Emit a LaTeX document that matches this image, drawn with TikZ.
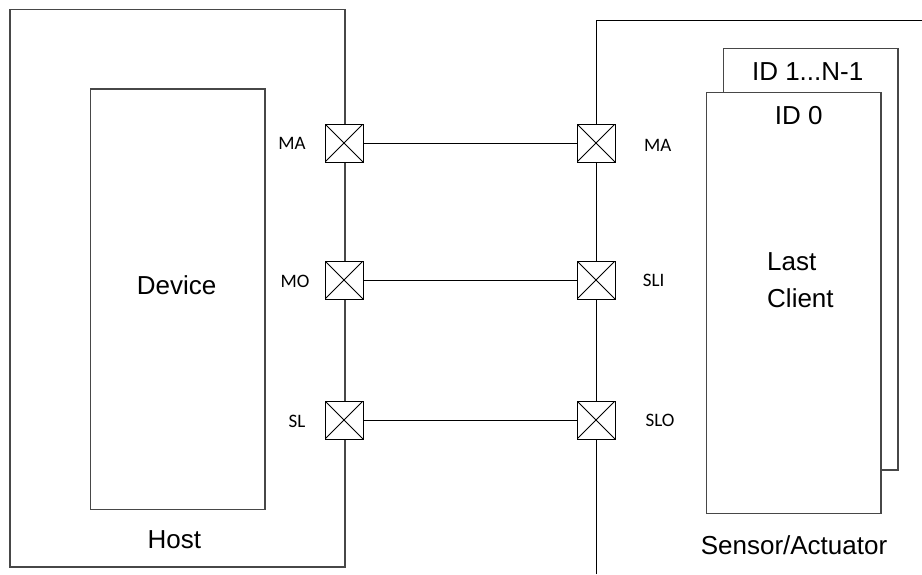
\documentclass[tikz,border=0pt]{standalone}
\usepackage{fontspec}
\setmainfont{Liberation Sans}
\newfontfamily\pinfont{Carlito}
\begin{document}
\begin{tikzpicture}[x=1pt,y=-1pt,
  box/.style={draw=black!72, line width=1.2pt, inner sep=0pt, outer sep=0pt, anchor=north west},
  pinbox/.style={draw, line width=1pt, minimum size=38pt, inner sep=0pt, outer sep=0pt, fill=white,
    path picture={\draw[line width=0.8pt] (path picture bounding box.north west)--(path picture bounding box.south east)
      (path picture bounding box.north east)--(path picture bounding box.south west);}},
  big/.style={font=\fontsize{26}{36.6}\selectfont, inner sep=0pt},
  lab/.style={font=\pinfont\fontsize{19}{22}\selectfont, inner sep=0pt},
  wire/.style={line width=1pt}]
\useasboundingbox (0,0) rectangle (922,574);
% host side
\node[box, minimum width=335pt, minimum height=557.5pt] (host) at (10,9.5) {};
\node[box, minimum width=174.5pt, minimum height=420.5pt] (device) at (90.5,89) {};
\node[big] (devicet) at (176.7,285) {Device};
\node[big] (hostt) at (174.3,539.3) {Host};
% sensor side bus
\coordinate (bustop) at (596,20.3);
\coordinate (busbot) at (596,574);
\coordinate (busend) at (922,20.3);
\draw[wire] (busbot) -- (bustop) -- (busend);
% client boxes
\node[box, fill=white, minimum width=174.3pt, minimum height=421.3pt] (back) at (723.7,48.7) {};
\node[box, fill=white, minimum width=174.3pt, minimum height=421pt] (front) at (706.7,92.7) {};
\node[big] (idn) at (807.7,71.7) {ID 1...N-1};
\node[big] (id0) at (798.7,116) {ID 0};
\node[big, align=left, anchor=west] (last) at (767,280) {Last\\Client};
\node[big] (sa) at (794,545) {Sensor/Actuator};
% pins
\node[pinbox] (lma) at (344,143) {};
\node[pinbox] (lmo) at (344,280) {};
\node[pinbox] (lsl) at (344,420) {};
\node[pinbox] (rma) at (596,143) {};
\node[pinbox] (rsli) at (596,280) {};
\node[pinbox] (rslo) at (596,420) {};
\node[lab] (lmat) at (292,143) {MA};
\node[lab] (lmot) at (295,281) {MO};
\node[lab] (lslt) at (297,421) {SL};
\node[lab] (rmat) at (657.7,145) {MA};
\node[lab] (rslit) at (653.7,280) {SLI};
\node[lab] (rslot) at (660,420) {SLO};
% wires
\draw[wire] (lma) -- (rma);
\draw[wire] (lmo) -- (rsli);
\draw[wire] (lsl) -- (rslo);
\end{tikzpicture}
\end{document}
